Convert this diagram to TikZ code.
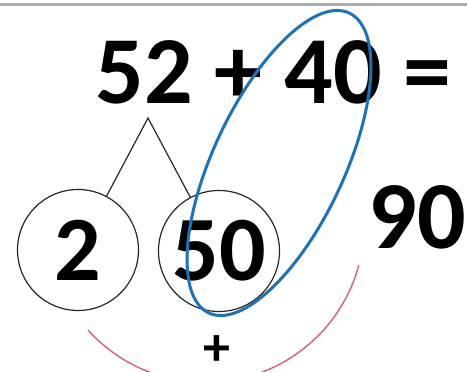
\documentclass[tikz,border=0pt]{standalone}
\usepackage{fontspec}
\setmainfont{Carlito}
\definecolor{ovalblue}{RGB}{28,115,185}
\definecolor{arcred}{RGB}{215,95,115}
\begin{document}
\begin{tikzpicture}[x=1pt,y=1pt,
  bigtxt/.style={font=\bfseries\fontsize{96}{100}\selectfont, inner sep=0pt},
  midtxt/.style={font=\bfseries\fontsize{92}{96}\selectfont, inner sep=0pt},
  part/.style={circle, draw=black!85, line width=1.2pt, minimum size=121pt, inner sep=0pt},
  branch/.style={draw=black!85, line width=1.2pt},
  oval/.style={draw=ovalblue, line width=3pt},
  sumarc/.style={draw=arcred, line width=1.4pt}]
\useasboundingbox (0,0) rectangle (467,372);
\begin{scope}
\clip (0,0) rectangle (467,372);
\draw[gray!65, line width=2.5pt] (0,367.5) -- (467,367.5);
\coordinate (arcstart) at (88,42);
\draw[sumarc] (arcstart) arc[start angle=222, end angle=345, radius=158.5];
\end{scope}
\node[bigtxt] (eq) at (273.5,299.5) {52 + 40 =};
\coordinate (apex) at (148,254);
\node[part, midtxt] (c2) at (78,122) {2};
\node[part, midtxt] (c50) at (219,121) {50};
\draw[branch] (c2) -- (apex) -- (c50);
\node[bigtxt] (n90) at (417.5,154.5) {90};
\draw[oval] (279,209) ellipse [x radius=165.6, y radius=65.5, rotate=64.9];
\node[font=\bfseries\fontsize{54}{56}\selectfont, inner sep=0pt] (plus) at (216.5,21) {+};
\end{tikzpicture}
\end{document}
